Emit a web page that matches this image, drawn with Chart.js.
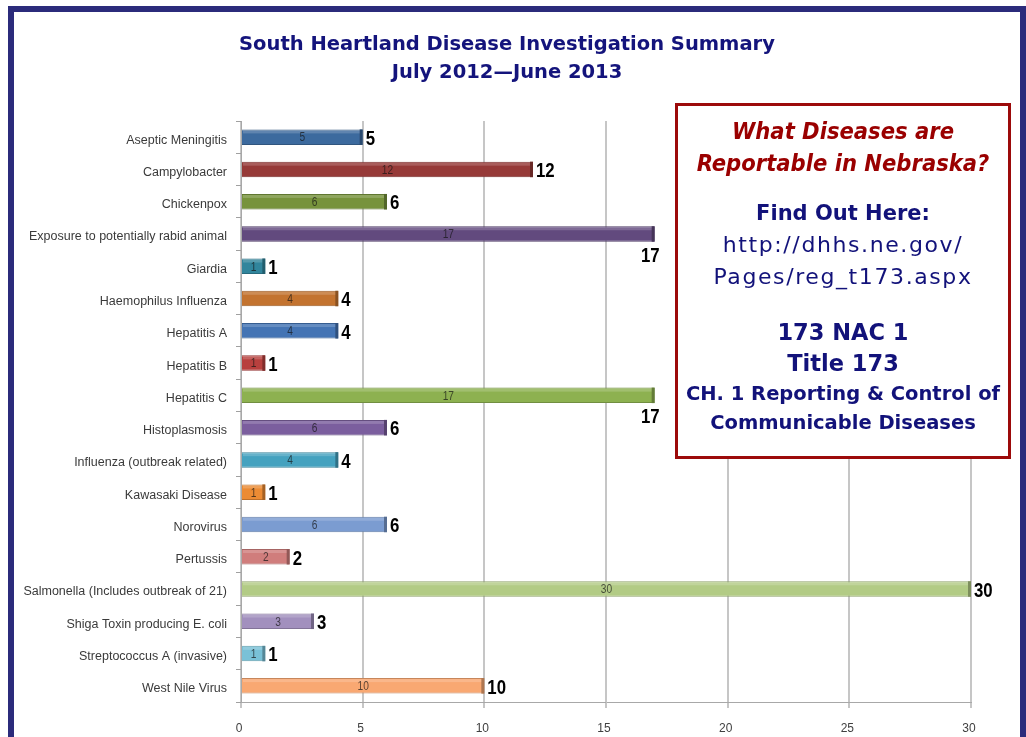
<!DOCTYPE html>
<html>
<head>
<meta charset="utf-8">
<script src="https://cdn.jsdelivr.net/npm/chart.js@4.4.1/dist/chart.umd.min.js"></script>
<style>
  html, body { margin: 0; padding: 0; background: #fff; overflow: hidden; }
  #wrap { position: relative; width: 1026px; height: 737px; }
  #chart { position: absolute; left: 0; top: 0; }
  #frame {
    position: absolute; left: 8px; top: 6px; width: 1018px; height: 800px;
    box-sizing: border-box; border: 6px solid #2b2b7b; border-bottom: none;
  }
  #title {
    position: absolute; left: 207px; top: 30px; width: 600px; text-align: center;
    font-family: 'DejaVu Sans', sans-serif; font-weight: bold; font-size: 19.5px;
    line-height: 28px; color: #14147c;
  }
  #info {
    position: absolute; left: 675px; top: 103px; width: 336px; height: 356px;
    box-sizing: border-box; border: 3px solid #9c0a0a; background: #fff;
    font-family: 'DejaVu Sans', sans-serif; color: #12127a;
  }
  #info div {
    position: absolute; left: 0; width: 100%; text-align: center;
    white-space: nowrap; line-height: 30px;
  }
  .q { color: #9a0000; font-style: italic; font-weight: bold; font-size: 23.5px;
       font-family: 'DejaVu Sans Condensed', 'DejaVu Sans', sans-serif; }
  .b { font-weight: bold; font-size: 21px; }
  .r { font-size: 22px; letter-spacing: 1.6px; }
  .nac { font-weight: bold; font-size: 22.5px; }
  .ch { font-weight: bold; font-size: 19.5px; }
</style>
</head>
<body>
<div id="wrap">
  <canvas id="chart" width="1026" height="737"></canvas>
  <div id="frame"></div>
  <div id="title">South Heartland Disease Investigation Summary<br>July 2012&mdash;June 2013</div>
  <div id="info">
    <div class="q" style="top:10px">What Diseases are</div>
    <div class="q" style="top:42px">Reportable in Nebraska?</div>
    <div class="b" style="top:92px">Find Out Here:</div>
    <div class="r" style="top:124px">http://dhhs.ne.gov/</div>
    <div class="r" style="top:156px">Pages/reg_t173.aspx</div>
    <div class="nac" style="top:211px">173 NAC 1</div>
    <div class="nac" style="top:242px">Title 173</div>
    <div class="ch" style="top:273px">CH. 1 Reporting &amp; Control of</div>
    <div class="ch" style="top:302px">Communicable Diseases</div>
  </div>
</div>
<script>
// Diseases investigated, July 2012 - June 2013
var diseases = [
  'Aseptic Meningitis', 'Campylobacter', 'Chickenpox',
  'Exposure to potentially rabid animal', 'Giardia', 'Haemophilus Influenza',
  'Hepatitis A', 'Hepatitis B', 'Hepatitis C', 'Histoplasmosis',
  'Influenza (outbreak related)', 'Kawasaki Disease', 'Norovirus', 'Pertussis',
  'Salmonella (Includes outbreak of 21)', 'Shiga Toxin producing E. coli',
  'Streptococcus A (invasive)', 'West Nile Virus'
];
var counts = [5, 12, 6, 17, 1, 4, 4, 1, 17, 6, 4, 1, 6, 2, 30, 3, 1, 10];

var barColors = [
  '#3c6a9e', '#963a38', '#77933c', '#624a7e', '#31859c', '#c3732f',
  '#4474b4', '#b8403e', '#8db150', '#7b5e9e', '#45a2bf', '#ec8b34',
  '#7b9cd1', '#d07d7c', '#b2cb85', '#a290be', '#79c1d7', '#f9a872'
];

function shade(hex, f) {
  var n = parseInt(hex.slice(1), 16);
  var r = Math.round(((n >> 16) & 255) * f);
  var g = Math.round(((n >> 8) & 255) * f);
  var b = Math.round((n & 255) * f);
  return 'rgb(' + r + ',' + g + ',' + b + ')';
}

var infoBox = { left: 675, top: 103, bottom: 459 };

// bar end faces + value labels
var valueLabels = {
  id: 'valueLabels',
  afterDatasetsDraw: function(chart) {
    var ctx = chart.ctx;
    var meta = chart.getDatasetMeta(0);
    ctx.save();
    meta.data.forEach(function(bar, i) {
      var h = bar.height;
      // dark end face for a bit of depth
      ctx.fillStyle = shade(barColors[i], 0.7);
      ctx.fillRect(bar.x - 3, bar.y - h / 2, 3, h);
      // light top edge
      ctx.fillStyle = 'rgba(255,255,255,0.18)';
      ctx.fillRect(bar.base + 1, bar.y - h / 2 + 1, bar.x - bar.base - 4, 3);

      // value inside the bar
      ctx.font = '12px "Liberation Sans", sans-serif';
      ctx.fillStyle = 'rgba(20,20,20,0.7)';
      ctx.textAlign = 'center';
      ctx.textBaseline = 'middle';
      ctx.save();
      ctx.translate((bar.base + bar.x) / 2, bar.y + 1);
      ctx.scale(0.85, 1);
      ctx.fillText(counts[i], 0, 0);
      ctx.restore();

      // bold value outside the bar (narrowed)
      ctx.font = 'bold 21px "Liberation Sans", sans-serif';
      ctx.fillStyle = '#000';
      var txt = String(counts[i]);
      var w = ctx.measureText(txt).width * 0.8;
      var hitsBox = bar.x + 5 + w > infoBox.left && bar.y > infoBox.top && bar.y < infoBox.bottom;
      ctx.save();
      if (hitsBox) {
        ctx.textAlign = 'right';
        ctx.translate(bar.x + 5, bar.y + 22);
      } else {
        ctx.textAlign = 'left';
        ctx.translate(bar.x + 3, bar.y + 2);
      }
      ctx.scale(0.8, 1);
      ctx.fillText(txt, 0, 0);
      ctx.restore();
    });
    ctx.restore();
  }
};

var ctx = document.getElementById('chart').getContext('2d');
new Chart(ctx, {
  type: 'bar',
  data: {
    labels: diseases,
    datasets: [{
      data: counts,
      backgroundColor: barColors,
      borderColor: barColors.map(function(c) { return shade(c, 0.8); }),
      borderWidth: 1,
      barPercentage: 0.48,
      categoryPercentage: 1
    }]
  },
  options: {
    indexAxis: 'y',
    responsive: false,
    animation: false,
    layout: { padding: { left: 10, right: 55, top: 121, bottom: 5 } },
    plugins: {
      legend: { display: false },
      tooltip: { enabled: false },
      title: { display: false }
    },
    scales: {
      x: {
        min: 0,
        max: 30,
        afterFit: function(scale) { scale.height = 30; },
        ticks: {
          stepSize: 5,
          color: '#404040',
          font: { family: '"Liberation Sans", sans-serif', size: 12 },
          padding: 13,
          labelOffset: -2
        },
        grid: { color: '#c6c6c6', lineWidth: 2, tickLength: 6 },
        border: { color: '#a8a8a8' }
      },
      y: {
        afterFit: function(scale) { scale.width = 231; },
        ticks: {
          color: '#3a3a3a',
          font: { family: '"Liberation Sans", sans-serif', size: 12.5 },
          padding: 9,
          labelOffset: 3
        },
        grid: { drawOnChartArea: false, offset: true, tickLength: 5, color: '#a0a0a0' },
        border: { color: '#a8a8a8' }
      }
    }
  },
  plugins: [valueLabels]
});
</script>
</body>
</html>
